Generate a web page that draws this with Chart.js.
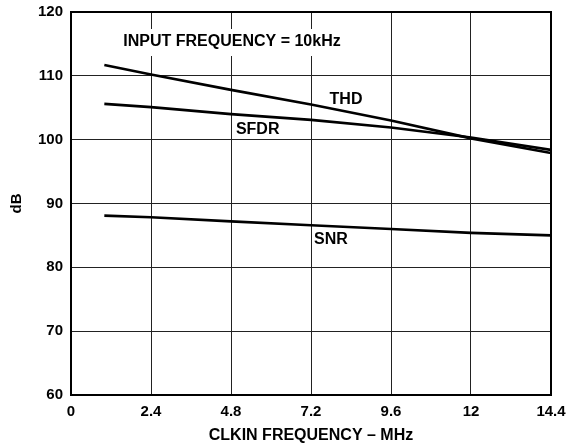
<!DOCTYPE html>
<html>
<head>
<meta charset="utf-8">
<script src="https://cdn.jsdelivr.net/npm/chart.js@4/dist/chart.umd.min.js"></script>
<style>
  html, body { margin: 0; padding: 0; background: #fff; }
  #wrap { width: 566px; height: 444px; }
</style>
</head>
<body>
<div id="wrap"><canvas id="c" width="566" height="444"></canvas></div>
<script>
const xValues = [1, 2.4, 4.8, 7.2, 9.6, 12, 14.4];
const thd  = [111.7, 110.2, 107.8, 105.5, 103.0, 100.2, 97.9];
const sfdr = [105.6, 105.1, 104.0, 103.1, 101.9, 100.35, 98.4];
const snr  = [88.1, 87.85, 87.2, 86.6, 86.0, 85.4, 85.0];
const xTicks = [0, 2.4, 4.8, 7.2, 9.6, 12, 14.4];
const yTicks = [60, 70, 80, 90, 100, 110, 120];
const notes = [
  { text: 'INPUT FREQUENCY = 10kHz', x: 4.83, y: 115.3, bg: true },
  { text: 'THD',  x: 8.25, y: 106.2 },
  { text: 'SFDR', x: 5.6,  y: 101.5 },
  { text: 'SNR',  x: 7.8,  y: 84.3 }
];

const FONT = '"Liberation Sans", Arial, Helvetica, sans-serif';
const pts = ys => xValues.map((x, i) => ({ x: x, y: ys[i] }));

const notesPlugin = {
  id: 'notes',
  beforeDatasetsDraw(chart) {
    const ctx = chart.ctx;
    const xs = chart.scales.x, ys = chart.scales.y;
    ctx.save();
    ctx.font = 'bold 16px ' + FONT;
    ctx.textAlign = 'center';
    ctx.textBaseline = 'middle';
    notes.forEach(n => {
      const px = xs.getPixelForValue(n.x), py = ys.getPixelForValue(n.y);
      const w = ctx.measureText(n.text).width;
      if (n.bg) {
        ctx.fillStyle = '#fff';
        ctx.fillRect(px - w / 2 - 6, py - 13, w + 12, 27);
      }
      ctx.fillStyle = '#000';
      ctx.fillText(n.text, px, py);
    });
    ctx.restore();
  },
  afterDatasetsDraw(chart) {
    const a = chart.chartArea, ctx = chart.ctx;
    ctx.save();
    ctx.strokeStyle = '#000';
    ctx.lineWidth = 2;
    ctx.strokeRect(a.left, a.top, a.right - a.left, a.bottom - a.top);
    ctx.restore();
  }
};

const lineDs = (label, data) => ({
  label: label, data: pts(data), borderColor: '#000', borderWidth: 2.6,
  pointRadius: 0, fill: false, tension: 0
});

new Chart(document.getElementById('c'), {
  type: 'line',
  data: { datasets: [lineDs('THD', thd), lineDs('SFDR', sfdr), lineDs('SNR', snr)] },
  options: {
    responsive: false,
    animation: false,
    devicePixelRatio: 1,
    layout: { padding: { top: 12, right: 15, left: 0, bottom: 0 } },
    plugins: { legend: { display: false }, tooltip: { enabled: false } },
    scales: {
      x: {
        type: 'linear', min: 0, max: 14.4,
        afterBuildTicks: s => { s.ticks = xTicks.map(v => ({ value: v })); },
        afterFit: s => { s.height = 49; s.paddingLeft = 0; s.paddingRight = 0; },
        grid: { color: '#222', lineWidth: 1, drawTicks: false },
        border: { display: false },
        ticks: { color: '#000', padding: 8, maxRotation: 0, font: { family: FONT, size: 15, weight: 'bold' },
                 callback: v => String(Math.round(v * 10) / 10) },
        title: { display: true, text: 'CLKIN FREQUENCY – MHz', color: '#000',
                 font: { family: FONT, size: 16, weight: 'bold' }, padding: { top: 0, bottom: -1 } }
      },
      y: {
        type: 'linear', min: 60, max: 120,
        afterBuildTicks: s => { s.ticks = yTicks.map(v => ({ value: v })); },
        afterFit: s => { s.width = 71; s.paddingTop = 0; s.paddingBottom = 0; },
        grid: { color: '#222', lineWidth: 1, drawTicks: false },
        border: { display: false },
        ticks: { color: '#000', padding: 8, font: { family: FONT, size: 15, weight: 'bold' } },
        title: { display: true, text: 'dB', color: '#000',
                 font: { family: FONT, size: 15, weight: 'bold' }, padding: { top: 8, bottom: 0 } }
      }
    }
  },
  plugins: [notesPlugin]
});
</script>
</body>
</html>
